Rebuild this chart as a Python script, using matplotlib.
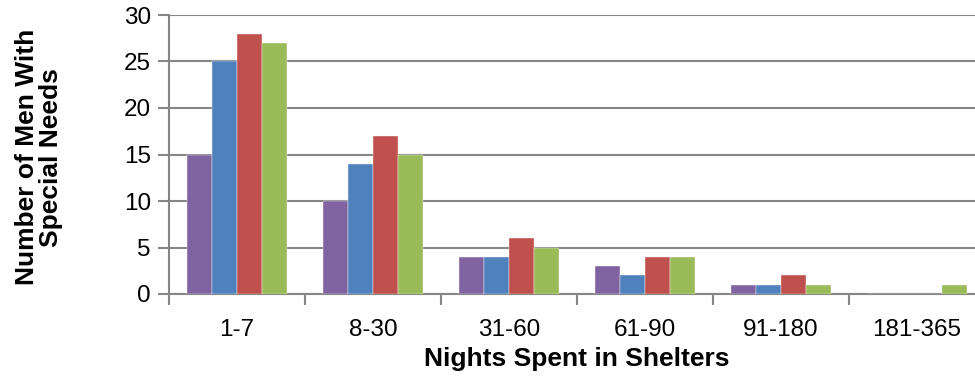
import numpy as np
import matplotlib
matplotlib.use('agg')
from matplotlib import pyplot as plt

categories = ['1-7', '8-30', '31-60', '61-90', '91-180', '181-365']
series_purple = [15, 10, 4, 3, 1, 0]
series_blue = [25, 14, 4, 2, 1, 0]
series_red = [28, 17, 6, 4, 2, 0]
series_green = [27, 15, 5, 4, 1, 1]

colors = ['#8064A2', '#4F81BD', '#C0504D', '#9BBB59']
grid_color = '#868686'

plt.rcParams['font.family'] = ['Liberation Sans', 'DejaVu Sans']

fig = plt.figure(figsize=(9.75, 3.81), dpi=100)
ax = fig.add_axes([169 / 975, 1 - 294 / 381, 816 / 975, (294 - 15) / 381])

x = np.arange(len(categories))
width = 0.184
all_series = [series_purple, series_blue, series_red, series_green]
for i, values in enumerate(all_series):
    offset = (i - 1.5) * width
    ax.bar(x + offset, values, width, color=colors[i], edgecolor='#f4f4f4',
           linewidth=0.3, zorder=3)

ax.set_xlim(-0.5, len(categories) - 0.5)
ax.set_ylim(0, 30)
ax.set_yticks(range(0, 31, 5))
ax.yaxis.grid(True, color=grid_color, linewidth=1.5, zorder=0)
ax.set_axisbelow(True)

ax.set_xticks(x)
ax.set_xticklabels(categories)
ax.set_xticks(np.arange(-0.5, len(categories), 1), minor=True)
ax.tick_params(axis='x', which='major', length=0, pad=18, labelsize=17.5)
ax.tick_params(axis='x', which='minor', length=8, width=1.5, color=grid_color)
ax.tick_params(axis='y', length=8, width=1.5, color=grid_color, labelsize=17.5, pad=5)

for side in ['top', 'right']:
    ax.spines[side].set_visible(False)
for side in ['left', 'bottom']:
    ax.spines[side].set_color(grid_color)
    ax.spines[side].set_linewidth(1.5)

ax.set_xlabel('Nights Spent in Shelters', fontsize=19, fontweight='bold', labelpad=4)
ax.set_ylabel('Number of Men With\nSpecial Needs', fontsize=19, fontweight='bold',
              linespacing=1.0)
ax.yaxis.set_label_coords(-0.13, 0.49)

plt.savefig('out.png', dpi=100)
